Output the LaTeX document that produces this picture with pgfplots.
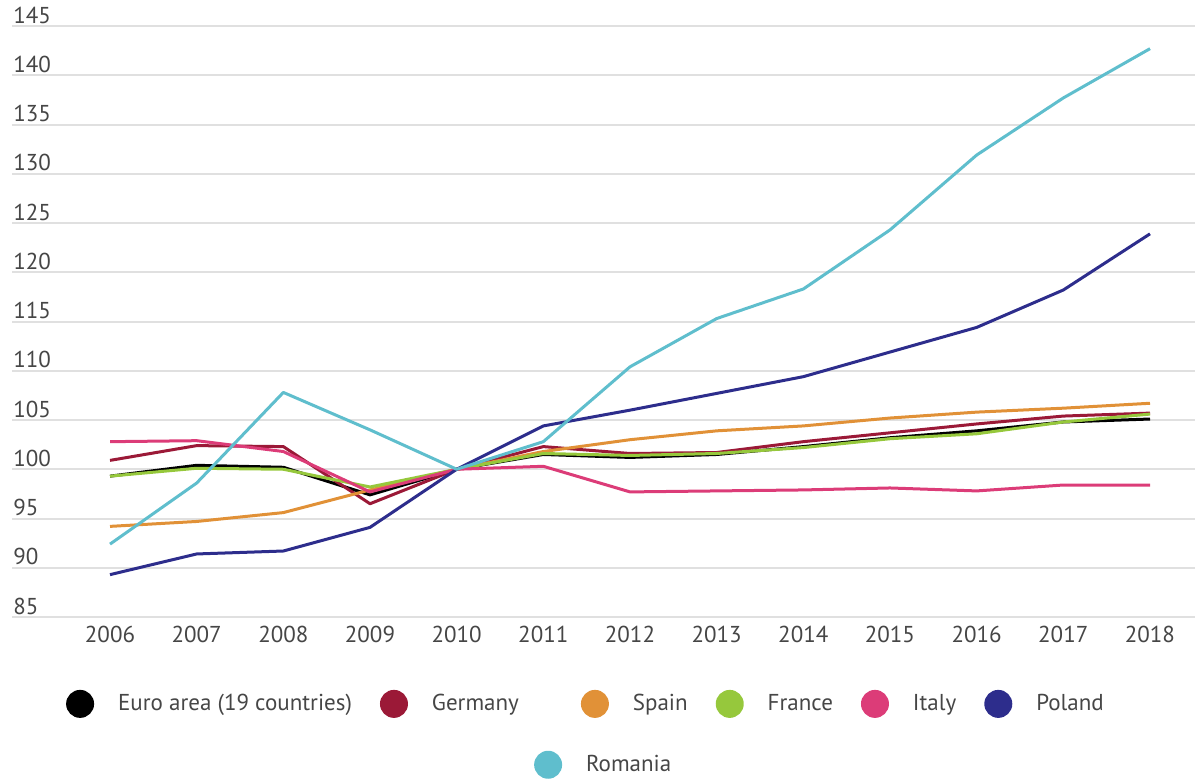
\documentclass[border=0pt]{standalone}
\usepackage{fontspec}
\setmainfont{PT Sans}
\usepackage{pgfplots}
\usepackage{pgfplotstable}
\pgfplotsset{compat=1.18}

\definecolor{cEuro}{RGB}{0,0,0}
\definecolor{cGer}{RGB}{155,25,55}
\definecolor{cEsp}{RGB}{225,145,55}
\definecolor{cFra}{RGB}{150,200,60}
\definecolor{cIta}{RGB}{220,60,120}
\definecolor{cPol}{RGB}{45,45,140}
\definecolor{cRom}{RGB}{95,190,205}
\definecolor{gridgray}{RGB}{224,224,224}
\definecolor{txtgray}{RGB}{70,70,70}

% index, 2010 = 100
\pgfplotstableread{
year euro germany spain france italy poland romania
2006 99.3  100.9 94.2  99.3  102.8 89.3  92.4
2007 100.4 102.4 94.7  100.1 102.9 91.4  98.6
2008 100.2 102.3 95.6  100.0 101.8 91.7  107.8
2009 97.4  96.5  97.9  98.2  97.7  94.1  104.0
2010 100.0 100.0 100.0 100.0 100.0 100.0 100.0
2011 101.5 102.3 101.8 101.6 100.3 104.4 102.8
2012 101.2 101.6 103.0 101.4 97.7  106.0 110.4
2013 101.5 101.7 103.9 101.6 97.8  107.7 115.3
2014 102.3 102.8 104.4 102.2 97.9  109.4 118.3
2015 103.2 103.7 105.2 103.1 98.1  111.9 124.3
2016 103.9 104.6 105.8 103.6 97.8  114.4 131.9
2017 104.8 105.4 106.2 104.8 98.4  118.2 137.7
2018 105.1 105.7 106.7 105.6 98.4  123.9 142.7
}\data

\begin{document}
\begin{tikzpicture}[x=1pt,y=1pt]
\useasboundingbox (-6,-80.5) rectangle (591.5,308.5);
\pgfplotsset{
  dotlegend/.style={
    legend image code/.code={%
      \fill[##1, draw=none] (7pt,0) circle (7pt);
      \path[draw=none, fill=none] (0,-7pt) rectangle (24pt,7pt);},
    legend style={draw=none, fill=none, font=\fontsize{11.5}{13}\selectfont,
      text=txtgray, inner sep=0pt,
      /tikz/every even column/.append style={column sep=12pt}},
  }
}
\begin{axis}[
  at={(0,0)}, anchor=south west,
  scale only axis, width=591.5pt, height=295.5pt,
  xmin=2004.869, xmax=2018.519, ymin=85, ymax=145,
  xtick={2006,2007,...,2018}, ytick={85,90,...,145},
  axis line style={draw=none}, major tick length=0pt,
  ymajorgrids, grid style={color=gridgray, line width=1pt},
  /pgf/number format/assume math mode=true,
  /pgf/number format/1000 sep={},
  tick label style={font=\fontsize{11.5}{13}\selectfont, text=txtgray},
  yticklabel style={anchor=base west, inner sep=0pt, yshift=1.5pt, xshift=0.5pt},
  xticklabel style={yshift=-1pt},
  no markers, every axis plot/.append style={line width=1.5pt, line join=round},
  dotlegend,
  legend columns=6,
  legend style={at={(0.486,-0.147)}, anchor=center},
]
\addplot[cEuro] table[x=year, y=euro] {\data};
\addlegendentry{Euro area (19 countries)}
\addplot[cGer] table[x=year, y=germany] {\data};
\addlegendentry{Germany\hspace*{17pt}}
\addplot[cEsp] table[x=year, y=spain] {\data};
\addlegendentry{Spain}
\addplot[cFra] table[x=year, y=france] {\data};
\addlegendentry{France}
\addplot[cIta] table[x=year, y=italy] {\data};
\addlegendentry{Italy}
\addplot[cPol] table[x=year, y=poland] {\data};
\addlegendentry{Poland}
\addplot[cRom, forget plot] table[x=year, y=romania] {\data};
\end{axis}
\begin{axis}[
  at={(0,0)}, anchor=south west,
  scale only axis, width=591.5pt, height=295.5pt,
  xmin=0, xmax=1, ymin=0, ymax=1, hide axis,
  dotlegend,
  legend style={at={(0.501,-0.250)}, anchor=center},
]
\addlegendimage{cRom}
\addlegendentry{Romania}
\end{axis}
\end{tikzpicture}
\end{document}
